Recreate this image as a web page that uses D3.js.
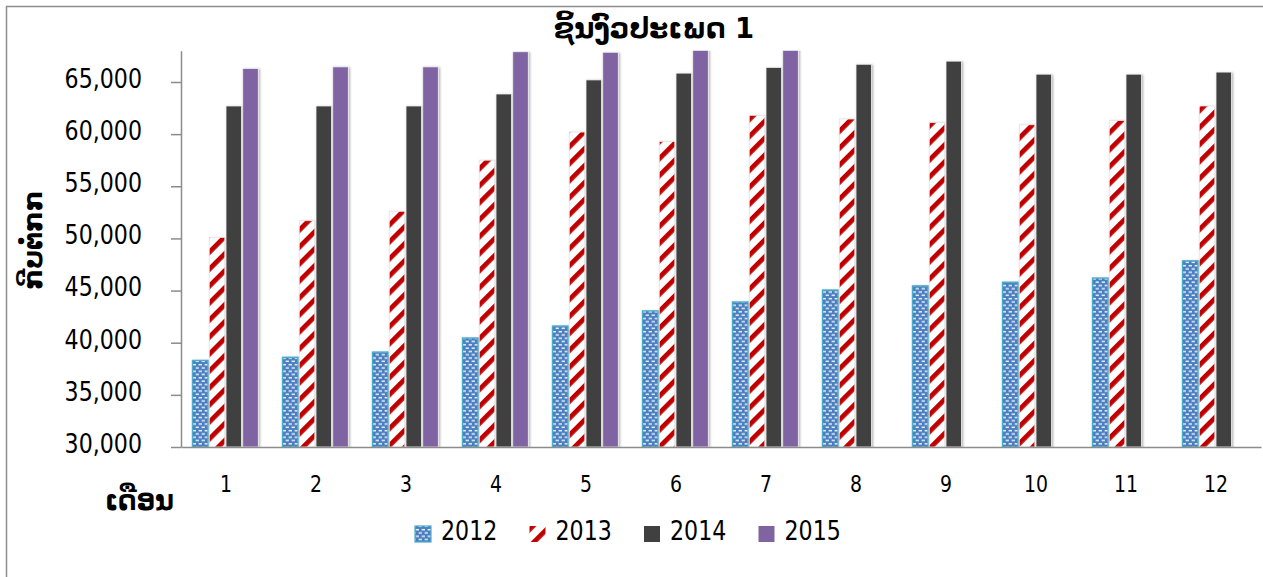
<!DOCTYPE html>
<html>
<head>
<meta charset="utf-8">
<script src="https://cdn.jsdelivr.net/npm/d3@7/dist/d3.min.js"></script>
<style>
  html, body { margin: 0; padding: 0; background: #fff; }
  svg { display: block; }
  text { font-family: "DejaVu Sans", sans-serif; fill: #000; }
</style>
</head>
<body>
<div id="chart"></div>
<script>
// ---- data ----
const months = ["1","2","3","4","5","6","7","8","9","10","11","12"];
const years = ["2012","2013","2014","2015"];
const v2012 = [38300, 38600, 39100, 40450, 41600, 43050, 43900, 45050, 45450, 45800, 46200, 47850];
const v2013 = [50100, 51700, 52600, 57500, 60200, 59300, 61800, 61450, 61100, 60900, 61300, 62700];
const v2014 = [62700, 62700, 62700, 63850, 65200, 65850, 66400, 66700, 67000, 65750, 65750, 65950];
const v2015 = [66300, 66450, 66450, 67900, 67850, 68400, 68400, null, null, null, null, null];
const yTicks = [30000, 35000, 40000, 45000, 50000, 55000, 60000, 65000];
const title = "ຊິ້ນງົວປະເພດ 1";
const yTitle = "ກີບຕໍ່ກກ";
const xTitle = "ເດືອນ";

const series = { "2012": v2012, "2013": v2013, "2014": v2014, "2015": v2015 };
const fills = { "2012": "url(#p2012)", "2013": "url(#p2013)", "2014": "#404040", "2015": "#8064a2" };
const strokes = { "2012": "#4bacc6", "2013": "#e4e4e4", "2014": "#f2f2f2", "2015": "#f2f2f2" };

const W = 1263, H = 577;
const SX = 0.82; // horizontal squeeze of text

const svg = d3.select("#chart").append("svg").attr("width", W).attr("height", H);
const defs = svg.append("defs");

// pattern 2012: blue with white dashes
const p1 = defs.append("pattern").attr("id", "p2012").attr("patternUnits", "userSpaceOnUse")
  .attr("width", 6).attr("height", 6.6);
p1.append("rect").attr("width", 6).attr("height", 6.6).attr("fill", "#4a7ec0");
[[0.6,0.9,3.4],[3.6,4.2,2.4],[0,4.2,0.9]].forEach(d => {
  p1.append("rect").attr("x", d[0]).attr("y", d[1]).attr("width", d[2]).attr("height", 1.5).attr("fill", "#e8f0fa");
});
// pattern 2013: white with red diagonal stripes
const p2 = defs.append("pattern").attr("id", "p2013").attr("patternUnits", "userSpaceOnUse")
  .attr("width", 12).attr("height", 12).attr("patternTransform", "rotate(45)");
p2.append("rect").attr("width", 12).attr("height", 12).attr("fill", "#fff");
p2.append("rect").attr("width", 4.8).attr("height", 12).attr("fill", "#c00000");

const f = defs.append("filter").attr("id", "sh").attr("x", "-30%").attr("y", "-10%").attr("width", "160%").attr("height", "120%");
f.append("feDropShadow").attr("dx", 1.2).attr("dy", 0.8).attr("stdDeviation", 1.2)
  .attr("flood-color", "#000").attr("flood-opacity", 0.3);

// outer border
svg.append("path").attr("d", `M6.5,${H} V6.5 H${W}`).attr("fill", "none")
  .attr("stroke", "#8c8c8c").attr("stroke-width", 1.5);

// scales
const plot = { left: 181, right: 1261, top: 50.7, bottom: 447 };
const x0 = d3.scaleBand().domain(months).range([plot.left, plot.right]).padding(0);
const x1 = d3.scaleBand().domain(years).range([-34, 33]).padding(0);
const y = d3.scaleLinear().domain([30000, 68000]).range([plot.bottom, plot.top]);

defs.append("clipPath").attr("id", "clip").append("rect")
  .attr("x", plot.left).attr("y", plot.top).attr("width", plot.right - plot.left).attr("height", plot.bottom - plot.top);

// bars
const data = [];
months.forEach((m, i) => years.forEach(yr => {
  const v = series[yr][i];
  if (v != null) data.push({ m, yr, v });
}));
const barsG = svg.append("g").attr("clip-path", "url(#clip)");
barsG.selectAll("rect").data(data).join("rect")
  .attr("x", d => x0(d.m) + x0.bandwidth() / 2 + x1(d.yr) + 0.5)
  .attr("width", x1.bandwidth() - 1.2)
  .attr("y", d => y(d.v))
  .attr("height", d => plot.bottom - y(d.v))
  .attr("fill", d => fills[d.yr])
  .attr("stroke", d => strokes[d.yr])
  .attr("stroke-width", d => d.yr === "2012" ? 1.4 : 0.8)
  .attr("filter", "url(#sh)");

// y axis
const yAxis = svg.append("g").attr("transform", `translate(${plot.left},0)`)
  .call(d3.axisLeft(y).tickValues(yTicks).tickSize(10).tickSizeOuter(0).tickFormat(d3.format(",")));
yAxis.select(".domain").attr("stroke", "#8c8c8c").attr("stroke-width", 1.5);
yAxis.selectAll(".tick line").attr("stroke", "#8c8c8c").attr("stroke-width", 1.5);
yAxis.selectAll(".tick text")
  .attr("font-family", "DejaVu Sans").attr("font-size", 27)
  .attr("x", -39 / SX).attr("dy", "0.2em")
  .attr("transform", `scale(${SX},1)`);

// x axis
const xAxis = svg.append("g").attr("transform", `translate(0,${plot.bottom})`)
  .call(d3.axisBottom(x0).tickSize(0).tickSizeOuter(0).tickPadding(29));
xAxis.select(".domain").attr("stroke", "#8c8c8c").attr("stroke-width", 1.5);
xAxis.selectAll(".tick text")
  .attr("font-family", "DejaVu Sans").attr("font-size", 23)
  .attr("transform", `scale(0.82,1)`);

// title
svg.append("text").attr("transform", `translate(654,38) scale(0.98,1)`)
  .attr("text-anchor", "middle").attr("font-size", 28).attr("font-weight", "bold").text(title);

// y title
svg.append("text").attr("transform", `translate(42,240) rotate(-90)`)
  .attr("text-anchor", "middle").attr("font-size", 26).attr("font-weight", "bold").text(yTitle);

// x title
svg.append("text").attr("transform", `translate(105,510) scale(0.92,1)`)
  .attr("text-anchor", "start").attr("font-size", 28).attr("font-weight", "bold").text(xTitle);

// legend
const lg = svg.append("g").selectAll("g").data(years).join("g")
  .attr("transform", (d, i) => `translate(${415 + i * 114.5},0)`);
lg.append("rect").attr("x", 0).attr("y", 526).attr("width", 16).attr("height", 16)
  .attr("fill", d => fills[d]).attr("stroke", d => d === "2012" ? "#4bacc6" : "none").attr("stroke-width", 1.2);
lg.append("text").attr("transform", `translate(26,540) scale(${SX},1)`)
  .attr("font-size", 27).text(d => d);
</script>
</body>
</html>
